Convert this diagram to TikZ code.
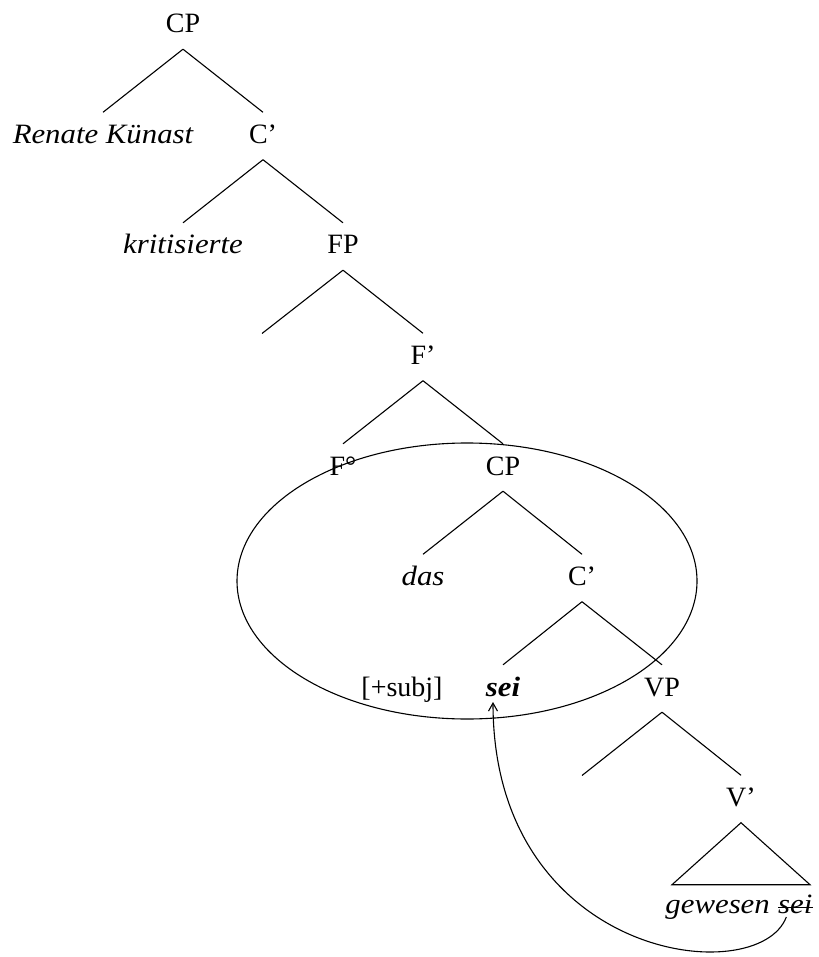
\documentclass[tikz,border=0pt]{standalone}
\usepackage{fontspec}
\setmainfont{Liberation Serif}[ItalicFeatures={FakeStretch=1.1}, BoldItalicFeatures={FakeStretch=1.1}]
\usetikzlibrary{arrows.meta}

\begin{document}
\begin{tikzpicture}[x=1pt,y=-1pt,
  tn/.style={anchor=base, inner xsep=0pt, inner ysep=11pt,
             text height=20pt, text depth=5pt,
             font=\fontsize{28}{32}\selectfont},
  br/.style={line width=1.1pt},
  mv/.style={line width=1.1pt, -{Straight Barb[length=8pt,width=9pt,line width=1.1pt]}}]
\useasboundingbox (0,0) rectangle (818,957);

% tree nodes, placed on their baselines
\node[tn] (cp1)  at (183,33)    {CP};
\node[tn] (rk)   at (103,143.5) {\itshape Renate Künast};
\node[tn] (c1)   at (263,143.5) {C’};
\node[tn] (krit) at (183,254)   {\itshape kritisierte};
\node[tn] (fp)   at (343,254)   {FP};
\coordinate (fpspec) at (262,333.5);
\node[tn] (fbar) at (423,364.5) {F’};
\node[tn] (f0)   at (343,475)   {F°};
\node[tn] (cp2)  at (503,475)   {CP};
\node[tn] (das)  at (423,585.5) {\itshape das};
\node[tn] (c2)   at (582,585.5) {C’};
\node[tn] (subj) at (402,696)   {[+subj]};
\node[tn] (sei)  at (503,696)   {\bfseries\itshape sei};
\node[tn] (vp)   at (662,696)   {VP};
\coordinate (vpspec) at (582,775.5);
\node[tn] (vbar) at (741,806.5) {V’};
\node[tn, anchor=base east] (gew)   at (770,913) {\itshape gewesen};
\node[tn, anchor=base west] (trace) at (778,913) {\itshape sei};

% branches
\draw[br] (cp1.south) -- (rk.north);
\draw[br] (cp1.south) -- (c1.north);
\draw[br] (c1.south) -- (krit.north);
\draw[br] (c1.south) -- (fp.north);
\draw[br] (fp.south) -- (fpspec);
\draw[br] (fp.south) -- (fbar.north);
\draw[br] (fbar.south) -- (f0.north);
\draw[br] (fbar.south) -- (cp2.north);
\draw[br] (cp2.south) -- (das.north);
\draw[br] (cp2.south) -- (c2.north);
\draw[br] (c2.south) -- (sei.north);
\draw[br] (c2.south) -- (vp.north);
\draw[br] (vp.south) -- (vpspec);
\draw[br] (vp.south) -- (vbar.north);

% roof over the V' material
\draw[br] (vbar.south) -- ++(-69,62) -- ++(138,0) -- cycle;

% struck-out trace
\draw[line width=0.9pt] ([yshift=6pt]trace.base west) -- ([yshift=6pt]trace.base east);

% encircled F/C domain
\draw[br] (467,581) ellipse [x radius=230pt, y radius=138pt];

% head movement
\draw[mv] ([xshift=-9pt,yshift=-4pt]trace.base) .. controls +(-28,74) and +(0,258) .. ([xshift=-10pt,yshift=-6pt]sei.base);
\end{tikzpicture}
\end{document}
